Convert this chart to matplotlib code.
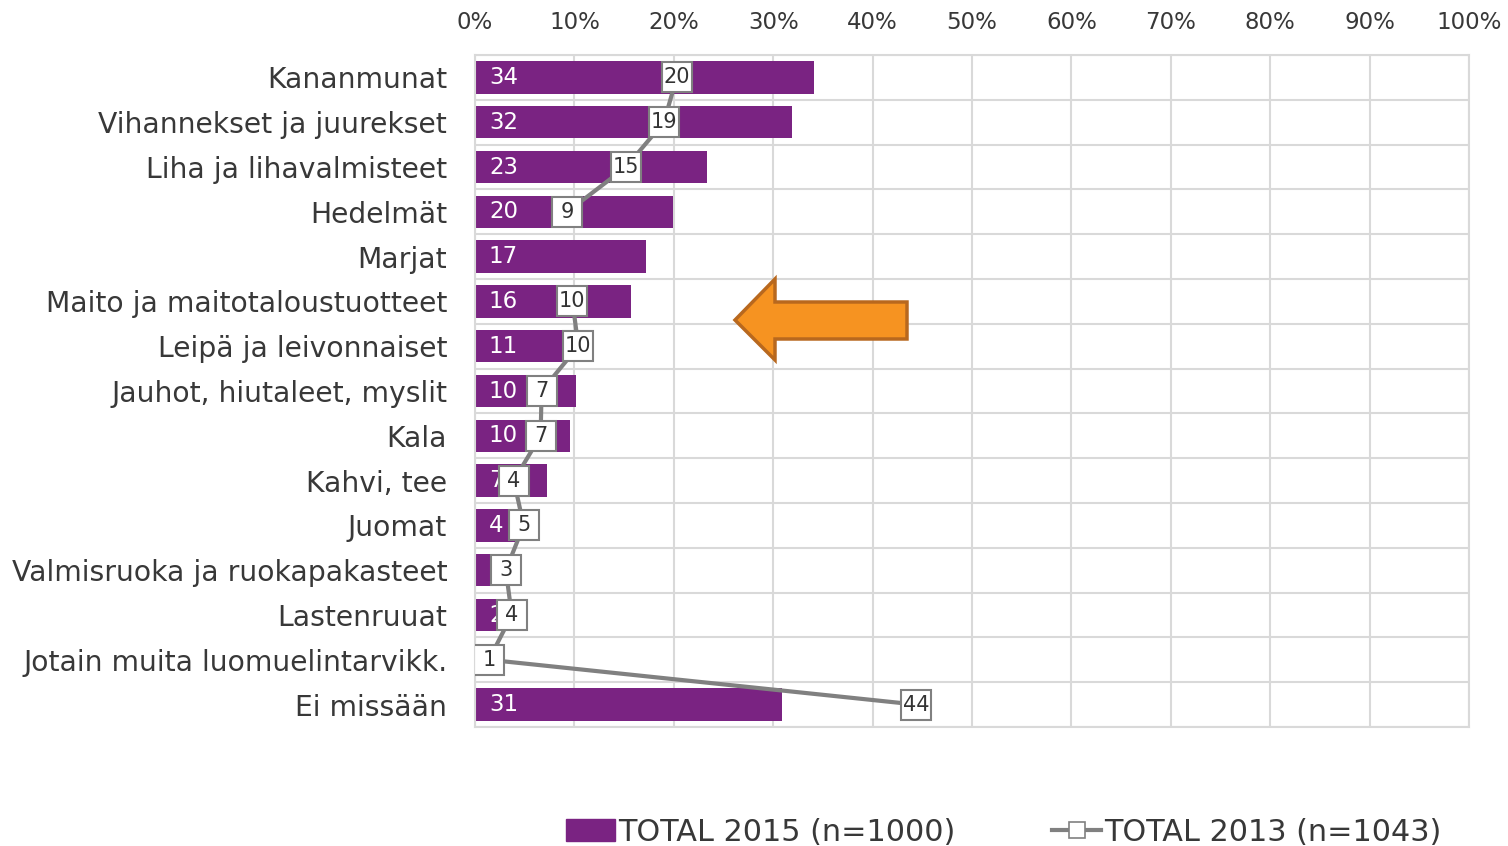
import matplotlib
matplotlib.use("Agg")
import matplotlib.pyplot as plt
import numpy as np
from matplotlib.patches import Polygon, Patch
from matplotlib.lines import Line2D

categories = ["Kananmunat", "Vihannekset ja juurekset", "Liha ja lihavalmisteet",
              "Hedelmät", "Marjat", "Maito ja maitotaloustuotteet", "Leipä ja leivonnaiset",
              "Jauhot, hiutaleet, myslit", "Kala", "Kahvi, tee", "Juomat",
              "Valmisruoka ja ruokapakasteet", "Lastenruuat",
              "Jotain muita luomuelintarvikk.", "Ei missään"]
total_2015 = [34.1, 31.9, 23.3, 19.9, 17.2, 15.7, 11.0, 10.2, 9.6, 7.2, 4.0, 2.2, 2.1, 1.2, 30.9]
total_2013 = [20.3, 19.0, 15.2, 9.3, np.nan, 9.8, 10.4, 6.7, 6.6, 3.9, 4.9, 3.1, 3.7, 1.4, 44.4]
series_names = ["TOTAL 2015 (n=1000)", "TOTAL 2013 (n=1043)"]
xticks = list(range(0, 101, 10))

W, H = 1508, 846
fig = plt.figure(figsize=(W / 100, H / 100), dpi=100)
ax = fig.add_axes([475 / W, 1 - 727 / H, (1469 - 475) / W, (727 - 55) / H])

txt = "#383838"
grid_c = "#d9d9d9"
purple = "#7a2382"
gray = "#808080"

y = np.arange(len(categories))
ax.barh(y, total_2015, height=0.72, color=purple, zorder=2)
for yi, v in zip(y, total_2015):
    ax.annotate(f"{round(v)}", (0, yi), xytext=(10, 0), textcoords="offset points",
                ha="left", va="center", color="white", fontsize=16.5, zorder=3)

ax.plot(total_2013, y, color=gray, lw=3, marker="s", ms=21.5, mfc="white",
        mec=gray, mew=1.5, zorder=4)
for yi, v in zip(y, total_2013):
    if not np.isnan(v):
        ax.text(v, yi, f"{round(v)}", ha="center", va="center", color="#333333",
                fontsize=15, zorder=5)

ax.set_xlim(0, 100)
ax.set_ylim(len(categories) - 0.5, -0.5)
ax.xaxis.tick_top()
ax.set_xticks(xticks)
ax.set_xticklabels([f"{t}%" for t in xticks], fontsize=16.5, color=txt)
ax.set_yticks(y)
ax.set_yticklabels(categories, fontsize=20.3, color=txt)
ax.set_yticks(np.arange(len(categories) + 1) - 0.5, minor=True)
ax.tick_params(axis="both", which="both", length=0)
ax.tick_params(axis="x", pad=15)
ax.tick_params(axis="y", pad=20)
ax.grid(axis="x", which="major", color=grid_c, lw=1.5, zorder=0)
ax.grid(axis="y", which="minor", color=grid_c, lw=1.5, zorder=0)
for s in ax.spines.values():
    s.set_color(grid_c)
    s.set_linewidth(1.5)

# arrow annotation
pts_px = [(735, 320), (775, 279), (775, 302), (907, 302), (907, 339), (775, 339), (775, 360)]
pts = [(px / W, 1 - py / H) for px, py in pts_px]
fig.add_artist(Polygon(pts, closed=True, transform=fig.transFigure,
                       facecolor="#f69321", edgecolor="#b8681e", lw=2.5, zorder=10))

handles = [Patch(facecolor=purple, edgecolor=purple),
           Line2D([], [], color=gray, lw=3, marker="s", ms=11, mfc="white", mec=gray, mew=1.2)]
fig.legend(handles, series_names, loc="center", bbox_to_anchor=(1004 / W, 1 - 832 / H),
           ncol=2, frameon=False, fontsize=21.8, handlelength=1.6, handletextpad=0.12,
           columnspacing=3.2, labelcolor=txt, borderpad=0)

fig.savefig("out.png", dpi=100)
